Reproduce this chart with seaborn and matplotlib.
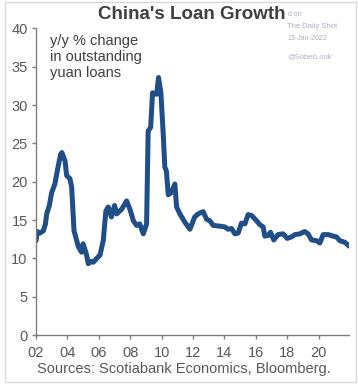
import matplotlib
matplotlib.use("Agg")
import matplotlib.pyplot as plt
from matplotlib.patches import Rectangle
import seaborn as sns
import pandas as pd

# ---- data (decimal year, y/y % change in outstanding yuan loans) ----
period = [2002.00, 2002.08, 2002.25, 2002.47, 2002.60, 2002.68, 2002.85, 2003.00,
          2003.20, 2003.40, 2003.57, 2003.65, 2003.85, 2003.95, 2004.16, 2004.27,
          2004.42, 2004.70, 2004.90, 2005.00, 2005.20, 2005.33, 2005.50, 2005.65,
          2005.96, 2006.07, 2006.28, 2006.45, 2006.60, 2006.80, 2007.00, 2007.13,
          2007.45, 2007.77, 2007.98, 2008.20, 2008.40, 2008.60, 2008.83, 2009.04,
          2009.14, 2009.30, 2009.42, 2009.68, 2009.80, 2009.95, 2010.10, 2010.20,
          2010.30, 2010.42, 2010.63, 2010.84, 2010.95, 2011.16, 2011.48, 2011.80,
          2012.10, 2012.32, 2012.64, 2012.86, 2013.07, 2013.28, 2013.70, 2014.02,
          2014.23, 2014.45, 2014.66, 2014.87, 2015.08, 2015.30, 2015.50, 2015.72,
          2016.00, 2016.25, 2016.46, 2016.57, 2016.78, 2016.93, 2017.14, 2017.41,
          2017.73, 2017.99, 2018.27, 2018.48, 2018.80, 2019.11, 2019.32, 2019.54,
          2019.86, 2020.07, 2020.28, 2020.60, 2020.91, 2021.13, 2021.34, 2021.66,
          2021.93]
loan_growth = [12.3, 13.5, 13.3, 13.6, 14.5, 15.8, 16.9, 18.6,
               19.7, 21.9, 23.6, 23.8, 22.7, 20.8, 20.4, 19.3,
               13.6, 11.5, 10.8, 11.9, 10.6, 9.3, 9.6, 9.5,
               10.2, 10.4, 12.3, 16.2, 16.7, 15.4, 16.9, 15.8,
               16.4, 17.5, 16.4, 14.9, 14.3, 14.5, 13.2, 14.5,
               26.6, 27.1, 31.6, 31.4, 33.6, 31.6, 26.2, 21.9,
               21.4, 18.3, 18.6, 19.7, 16.7, 15.8, 14.7, 13.8,
               15.4, 15.8, 16.1, 15.1, 14.9, 14.3, 14.2, 14.1,
               13.8, 13.9, 13.2, 13.3, 14.6, 14.5, 15.7, 15.6,
               15.0, 14.4, 14.1, 12.9, 13.0, 13.4, 12.4, 13.1,
               13.2, 12.6, 12.8, 13.1, 13.2, 13.5, 13.2, 12.4,
               12.3, 12.0, 13.1, 13.1, 12.9, 12.8, 12.3, 12.1,
               11.6]
x_ticks = [2002, 2004, 2006, 2008, 2010, 2012, 2014, 2016, 2018, 2020]
x_tick_labels = ["02", "04", "06", "08", "10", "12", "14", "16", "18", "20"]
y_ticks = [0, 5, 10, 15, 20, 25, 30, 35, 40]

df = pd.DataFrame({"period": period, "growth": loan_growth})

sns.set_theme(style="ticks")
plt.rcParams["font.family"] = ["Liberation Sans", "DejaVu Sans"]

fig = plt.figure(figsize=(3.58, 3.84), dpi=100)
ax = fig.add_axes([0.1006, 0.1276, 0.8744, 0.7984])

sns.lineplot(data=df, x="period", y="growth", ax=ax, color="#1F4E89",
             linewidth=3.6, solid_joinstyle="round", solid_capstyle="round")

ax.set_xlim(2002, 2021.93)
ax.set_ylim(0, 40)
ax.set_xticks(x_ticks)
ax.set_xticklabels(x_tick_labels)
ax.set_yticks(y_ticks)
ax.set_xlabel("")
ax.set_ylabel("")
for s in ["top", "right"]:
    ax.spines[s].set_visible(False)
for s in ["left", "bottom"]:
    ax.spines[s].set_color("#7F7F7F")
    ax.spines[s].set_linewidth(1.0)
ax.tick_params(axis="both", colors="#7F7F7F", labelcolor="#595959",
               labelsize=10.5, length=3, width=1.0, direction="out", pad=3)
ax.tick_params(axis="x", pad=5)

fig.text(0.535, 0.962, "China's Loan Growth", ha="center", va="center",
         fontsize=13.5, fontweight="bold", color="#404040")
fig.text(0.14, 0.912, "y/y % change\nin outstanding\nyuan loans", ha="left",
         va="top", fontsize=10.5, color="#404040", linespacing=1.2)
fig.text(0.515, 0.038, "Sources: Scotiabank Economics, Bloomberg.", ha="center",
         va="center", fontsize=10.5, color="#595959")

wm = "#A9B1C2"
fig.text(0.805, 0.961, "d on", fontsize=5, color=wm, va="center", ha="left")
fig.text(0.803, 0.930, "The Daily Shot", fontsize=5.5, color=wm, va="center", ha="left")
fig.text(0.803, 0.901, "13-Jan-2022", fontsize=5, color=wm, va="center", ha="left")
fig.text(0.803, 0.852, "@SoberLook", fontsize=5.5, color=wm, va="center", ha="left")

fig.patches.append(Rectangle((5 / 358, 2 / 384), 351 / 358, 380 / 384,
                             transform=fig.transFigure, fill=False,
                             edgecolor="#D9D9D9", linewidth=1.0))

fig.savefig("out.png", dpi=100)
